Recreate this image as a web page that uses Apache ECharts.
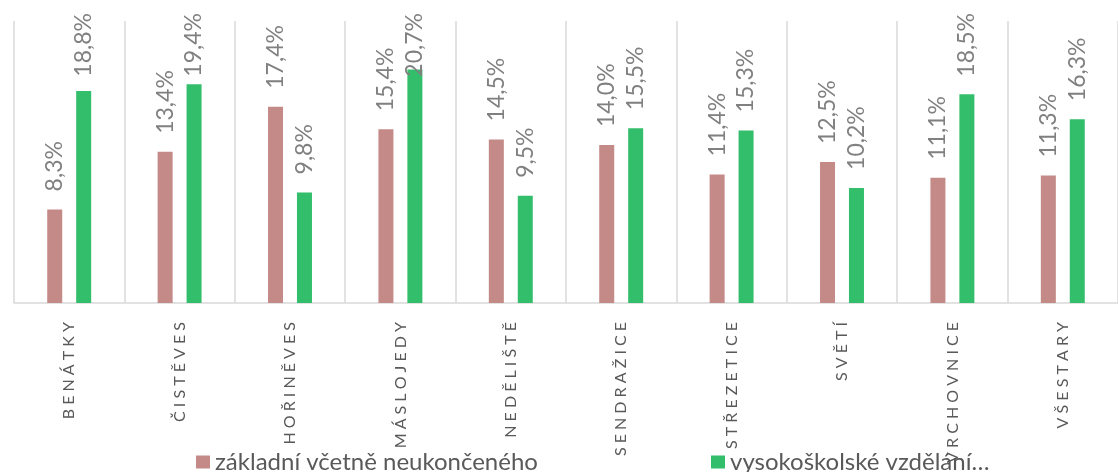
<!DOCTYPE html>
<html>
<head>
<meta charset="utf-8">
<script src="https://cdn.jsdelivr.net/npm/echarts@6/dist/echarts.min.js"></script>
<style>
  html, body { margin: 0; padding: 0; background: #fff; }
  #chart { width: 1118px; height: 472px; }
</style>
</head>
<body>
<div id="chart"></div>
<script>
// obce
const categories = ['BENÁTKY', 'ČISTĚVES', 'HOŘINĚVES', 'MÁSLOJEDY', 'NEDĚLIŠTĚ',
                    'SENDRAŽICE', 'STŘEZETICE', 'SVĚTÍ', 'VRCHOVNICE', 'VŠESTARY']
const seriesNames = ['základní včetně neukončeného', 'vysokoškolské vzdělání…']
// podíl obyvatel v %
const zakladni = [8.3, 13.4, 17.4, 15.4, 14.5, 14.0, 11.4, 12.5, 11.1, 11.3]
const vysokoskolske = [18.8, 19.4, 9.8, 20.7, 9.5, 15.5, 15.3, 10.2, 18.5, 16.3]

const colors = ['#c48a87', '#33be6b']
const font = 'Lato, "Noto Sans", sans-serif'

let charts = echarts.init(document.getElementById('chart'))

const valueLabel = {
    show: true,
    position: 'top',
    rotate: 90,
    align: 'left',
    verticalAlign: 'middle',
    distance: 18,
    color: '#808080',
    fontSize: 23,
    fontFamily: font,
    formatter: p => p.value.toFixed(1).replace('.', ',') + '%'
}

// keep labels inside the chart like Excel does (text must not start above y=13)
const clampLabel = function (p) {
    const len = Math.max(p.labelRect.width, p.labelRect.height)
    return { y: Math.max(p.rect.y - 18, 13 + len) }
}

const legendBase = {
    icon: 'rect',
    itemWidth: 14,
    itemHeight: 13,
    itemGap: 0,
    padding: 0,
    top: 450,
    textStyle: { color: '#595959', fontSize: 24, lineHeight: 24, fontFamily: font }
}

charts.setOption({
    animation: false,
    color: colors,
    grid: {
        left: 14,
        width: 1115,
        top: 21,
        bottom: 169
    },
    legend: [
        Object.assign({ data: [seriesNames[0]], left: 196 }, legendBase),
        Object.assign({ data: [seriesNames[1]], left: 711 }, legendBase)
    ],
    xAxis: {
        type: 'category',
        data: categories,
        axisLine: { lineStyle: { color: '#d9d9d9', width: 1.5 } },
        axisTick: { show: false },
        splitLine: { show: true, interval: 0, lineStyle: { color: '#d9d9d9', width: 1.5 } },
        axisLabel: {
            interval: 0,
            rotate: 90,
            margin: 19,
            color: '#595959',
            fontSize: 16,
            fontFamily: font,
            formatter: v => v.split('').join(' ')
        }
    },
    yAxis: {
        type: 'value',
        min: 0,
        max: 25,
        show: false,
        splitLine: { show: false }
    },
    series: [
        {
            name: seriesNames[0],
            type: 'bar',
            barWidth: 15,
            barGap: '93%',
            label: valueLabel,
            labelLayout: clampLabel,
            data: zakladni
        },
        {
            name: seriesNames[1],
            type: 'bar',
            barWidth: 15,
            label: valueLabel,
            labelLayout: clampLabel,
            data: vysokoskolske
        }
    ]
})
window.addEventListener('resize', () => {
    charts.resize()
})
</script>
</body>
</html>
